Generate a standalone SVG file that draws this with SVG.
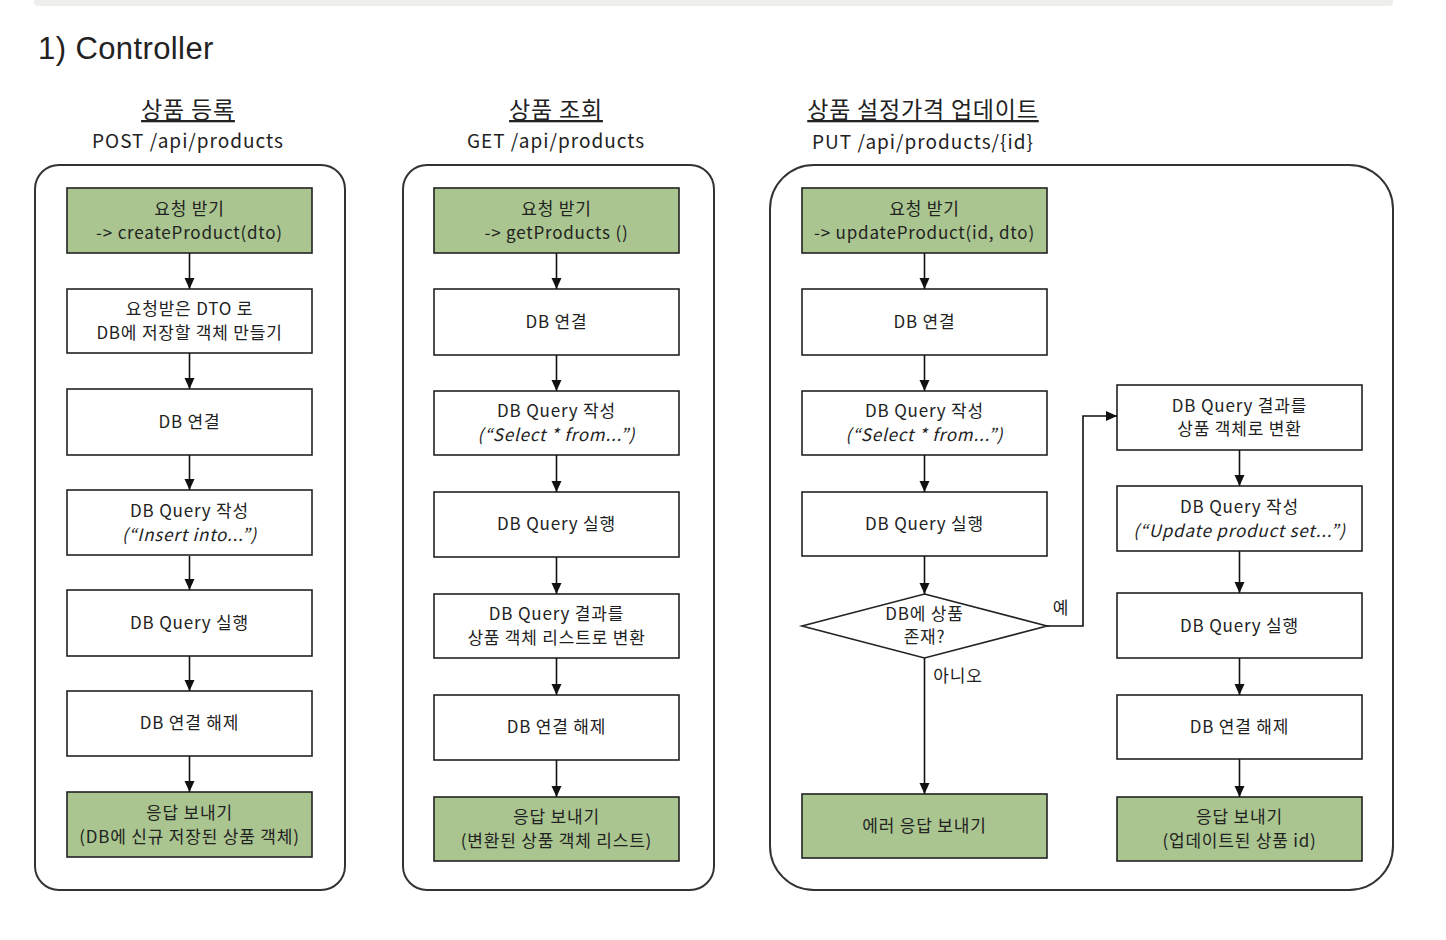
<svg xmlns="http://www.w3.org/2000/svg" width="1446" height="940" viewBox="0 0 1446 940">
<style>
.t{font-family:"Noto Sans CJK KR","Noto Sans",sans-serif;font-size:17px;fill:#222;text-anchor:middle;letter-spacing:0.8px}
.i{font-style:italic}
.h{font-family:"Noto Sans CJK KR","Noto Sans",sans-serif;font-size:23px;fill:#222;text-anchor:middle;text-decoration:underline;letter-spacing:0.8px}
.s{font-family:"Noto Sans CJK KR","Noto Sans",sans-serif;font-size:19px;fill:#222;text-anchor:middle;letter-spacing:1px}
.box{fill:#fff;stroke:#222;stroke-width:1.6}
.g{fill:#aac58f;stroke:#222;stroke-width:1.6}
.cont{fill:#fff;stroke:#333;stroke-width:2}
.c{fill:none;stroke:#111;stroke-width:1.6;marker-end:url(#ah)}
</style>
<defs>
<marker id="ah" markerUnits="userSpaceOnUse" markerWidth="12" markerHeight="12" refX="11" refY="5" orient="auto"><path d="M0,0 L11,5 L0,10 z" fill="#111"/></marker>
</defs>
<rect width="1446" height="940" fill="#fff"/>
<path d="M34,-5 H1393 V2 a4,4 0 0 1 -4,4 H38 a4,4 0 0 1 -4,-4 z" fill="#eeeeec"/>
<text x="38" y="59" font-family="Liberation Sans, Arial, sans-serif" font-size="31" letter-spacing="0.4" fill="#222">1) Controller</text>

<g id="col1">
<text class="h" x="188" y="118">상품 등록</text>
<text class="s" x="188" y="148">POST /api/products</text>
<rect class="cont" x="35" y="165" width="310" height="725" rx="24"/>
</g>
<g id="c1n1"><rect class="g" x="67" y="188" width="245" height="65"/><text class="t" x="189.5" y="215">요청 받기</text><text class="t" x="189.5" y="239">-&gt; createProduct(dto)</text></g>
<g id="c1n2"><rect class="box" x="67" y="289" width="245" height="64"/><text class="t" x="189.5" y="315">요청받은 DTO 로</text><text class="t" x="189.5" y="339">DB에 저장할 객체 만들기</text></g>
<g id="c1n3"><rect class="box" x="67" y="389" width="245" height="66"/><text class="t" x="189.5" y="428">DB 연결</text></g>
<g id="c1n4"><rect class="box" x="67" y="490" width="245" height="65"/><text class="t" x="189.5" y="517">DB Query 작성</text><text class="t i" x="189.5" y="541">(“Insert into...”)</text></g>
<g id="c1n5"><rect class="box" x="67" y="590" width="245" height="66"/><text class="t" x="189.5" y="629">DB Query 실행</text></g>
<g id="c1n6"><rect class="box" x="67" y="691" width="245" height="65"/><text class="t" x="189.5" y="729">DB 연결 해제</text></g>
<g id="c1n7"><rect class="g" x="67" y="792" width="245" height="65"/><text class="t" x="189.5" y="819">응답 보내기</text><text class="t" x="189.5" y="843">(DB에 신규 저장된 상품 객체)</text></g>

<g id="col2">
<text class="h" x="556" y="118">상품 조회</text>
<text class="s" x="556" y="148">GET /api/products</text>
<rect class="cont" x="403" y="165" width="311" height="725" rx="24"/>
</g>
<g id="c2n1"><rect class="g" x="434" y="188" width="245" height="65"/><text class="t" x="556.5" y="215">요청 받기</text><text class="t" x="556.5" y="239">-&gt; getProducts ()</text></g>
<g id="c2n2"><rect class="box" x="434" y="289" width="245" height="66"/><text class="t" x="556.5" y="328">DB 연결</text></g>
<g id="c2n3"><rect class="box" x="434" y="391" width="245" height="64"/><text class="t" x="556.5" y="417">DB Query 작성</text><text class="t i" x="556.5" y="441">(“Select * from...”)</text></g>
<g id="c2n4"><rect class="box" x="434" y="492" width="245" height="65"/><text class="t" x="556.5" y="530">DB Query 실행</text></g>
<g id="c2n5"><rect class="box" x="434" y="594" width="245" height="64"/><text class="t" x="556.5" y="620">DB Query 결과를</text><text class="t" x="556.5" y="644">상품 객체 리스트로 변환</text></g>
<g id="c2n6"><rect class="box" x="434" y="695" width="245" height="65"/><text class="t" x="556.5" y="733">DB 연결 해제</text></g>
<g id="c2n7"><rect class="g" x="434" y="797" width="245" height="64"/><text class="t" x="556.5" y="823">응답 보내기</text><text class="t" x="556.5" y="847">(변환된 상품 객체 리스트)</text></g>

<g id="col3">
<text class="h" x="923" y="118">상품 설정가격 업데이트</text>
<text class="s" x="923" y="149">PUT /api/products/{id}</text>
<rect class="cont" x="770" y="165" width="623" height="725" rx="44"/>
</g>
<g id="c3n1"><rect class="g" x="802" y="188" width="245" height="65"/><text class="t" x="924.5" y="215">요청 받기</text><text class="t" x="924.5" y="239">-&gt; updateProduct(id, dto)</text></g>
<g id="c3n2"><rect class="box" x="802" y="289" width="245" height="66"/><text class="t" x="924.5" y="328">DB 연결</text></g>
<g id="c3n3"><rect class="box" x="802" y="391" width="245" height="64"/><text class="t" x="924.5" y="417">DB Query 작성</text><text class="t i" x="924.5" y="441">(“Select * from...”)</text></g>
<g id="c3n4"><rect class="box" x="802" y="492" width="245" height="64"/><text class="t" x="924.5" y="530">DB Query 실행</text></g>
<g id="c3d"><path class="box" d="M924.5,594 L1047,626 L924.5,658 L802,626 z"/><text class="t" x="924.5" y="620">DB에 상품</text><text class="t" x="924.5" y="643">존재?</text></g>
<g id="c3err"><rect class="g" x="802" y="794" width="245" height="64"/><text class="t" x="924.5" y="832">에러 응답 보내기</text></g>
<g id="c3r1"><rect class="box" x="1117" y="385" width="245" height="65"/><text class="t" x="1239.5" y="412">DB Query 결과를</text><text class="t" x="1239.5" y="435">상품 객체로 변환</text></g>
<g id="c3r2"><rect class="box" x="1117" y="486" width="245" height="65"/><text class="t" x="1239.5" y="513">DB Query 작성</text><text class="t i" x="1239.5" y="537">(“Update product set...”)</text></g>
<g id="c3r3"><rect class="box" x="1117" y="593" width="245" height="65"/><text class="t" x="1239.5" y="632">DB Query 실행</text></g>
<g id="c3r4"><rect class="box" x="1117" y="695" width="245" height="64"/><text class="t" x="1239.5" y="733">DB 연결 해제</text></g>
<g id="c3r5"><rect class="g" x="1117" y="797" width="245" height="64"/><text class="t" x="1239.5" y="823">응답 보내기</text><text class="t" x="1239.5" y="847">(업데이트된 상품 id)</text></g>

<g id="connectors">
<path class="c" d="M189.5,253 V289"/>
<path class="c" d="M189.5,353 V389"/>
<path class="c" d="M189.5,455 V490"/>
<path class="c" d="M189.5,556 V590"/>
<path class="c" d="M189.5,656 V691"/>
<path class="c" d="M189.5,756 V792"/>
<path class="c" d="M556.5,253 V289"/>
<path class="c" d="M556.5,355 V391"/>
<path class="c" d="M556.5,455 V492"/>
<path class="c" d="M556.5,557 V594"/>
<path class="c" d="M556.5,658 V695"/>
<path class="c" d="M556.5,760 V797"/>
<path class="c" d="M924.5,253 V289"/>
<path class="c" d="M924.5,355 V391"/>
<path class="c" d="M924.5,455 V492"/>
<path class="c" d="M924.5,556 V594"/>
<path class="c" d="M924.5,658 V794"/>
<path class="c" d="M1047,626 H1083 V416 H1117"/>
<path class="c" d="M1239.5,450 V486"/>
<path class="c" d="M1239.5,551 V593"/>
<path class="c" d="M1239.5,658 V695"/>
<path class="c" d="M1239.5,759 V797"/>
<text class="t" x="1061" y="614">예</text>
<text class="t" x="958" y="682">아니오</text>
</g>
</svg>
